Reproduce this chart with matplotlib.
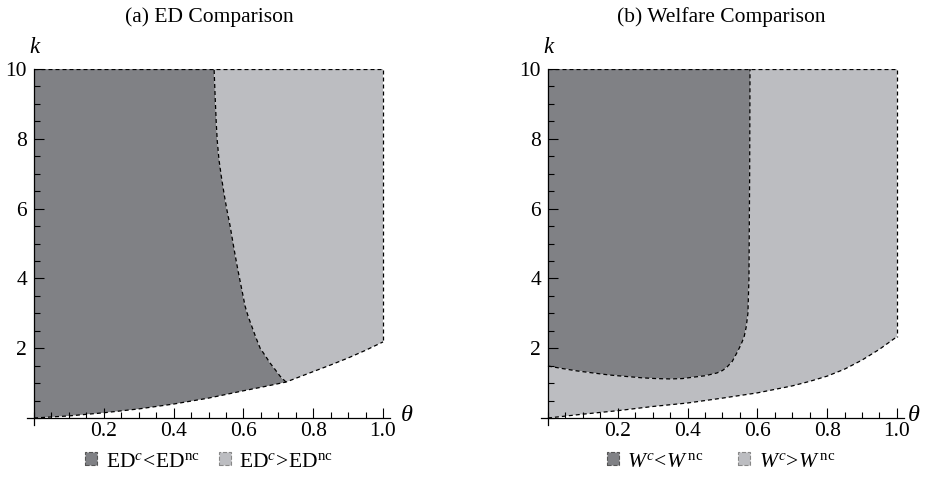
"""Region plots: ED and welfare comparison over (theta, k)."""

import matplotlib
matplotlib.use("Agg")
import matplotlib.pyplot as plt
from matplotlib.patches import Patch
from matplotlib.ticker import MultipleLocator

plt.rcParams["font.family"] = ["Liberation Serif", "DejaVu Serif"]
plt.rcParams["mathtext.fontset"] = "custom"
plt.rcParams["mathtext.rm"] = "Liberation Serif"
plt.rcParams["mathtext.it"] = "Liberation Serif:italic"

DARK = "#808185"
LIGHT = "#bcbdc1"
K_MAX = 10
FS = 15.5

# (a) lower feasibility boundary
theta_low_a = [0, 0.1, 0.2, 0.3, 0.4, 0.5, 0.6, 0.66, 0.722, 0.8, 0.85, 0.9, 0.95, 1.0]
k_low_a = [0, 0.06, 0.15, 0.26, 0.4, 0.57, 0.78, 0.9, 1.03, 1.33, 1.52, 1.72, 1.94, 2.18]
# (a) boundary ED^c = ED^nc
theta_div_a = [0.722, 0.705, 0.69, 0.676, 0.665, 0.648, 0.636, 0.625, 0.614, 0.605, 0.595,
               0.585, 0.573, 0.562, 0.553, 0.545, 0.537, 0.530, 0.525, 0.522, 0.519, 0.516]
k_div_a = [1.03, 1.2, 1.4, 1.58, 1.75, 2.0, 2.3, 2.6, 2.9, 3.2, 3.7,
           4.2, 4.85, 5.5, 5.95, 6.4, 6.9, 7.4, 7.95, 8.5, 9.2, 10]

# (b) lower feasibility boundary
theta_low_b = [0, 0.1, 0.2, 0.3, 0.4, 0.5, 0.6, 0.7, 0.75, 0.8, 0.85, 0.9, 0.95, 1.0]
k_low_b = [0, 0.11, 0.21, 0.33, 0.43, 0.57, 0.72, 0.92, 1.05, 1.2, 1.4, 1.66, 1.97, 2.33]
# (b) boundary W^c = W^nc
theta_div_b = [0, 0.04, 0.083, 0.13, 0.178, 0.225, 0.272, 0.31, 0.35, 0.385, 0.416, 0.45,
               0.484, 0.5, 0.513, 0.528, 0.541, 0.553, 0.562, 0.568, 0.573, 0.576, 0.578, 0.579]
k_div_b = [1.49, 1.42, 1.35, 1.29, 1.23, 1.19, 1.15, 1.13, 1.12, 1.13, 1.17, 1.21,
           1.29, 1.36, 1.46, 1.62, 1.86, 2.1, 2.32, 2.6, 3.0, 4.0, 7.0, 10]

titles = ["(a) ED Comparison", "(b) Welfare Comparison"]
legend_labels = [
    [r"$\mathrm{ED}^{c}\!<\!\mathrm{ED}^{\mathrm{nc}}$", r"$\mathrm{ED}^{c}\!>\!\mathrm{ED}^{\mathrm{nc}}$"],
    [r"$W^{c}\!<\!W^{\,\mathrm{nc}}$", r"$W^{c}\!>\!W^{\,\mathrm{nc}}$"],
]

DASH = (0, (3.2, 2.4))


def style_axes(ax, theta_off):
    ax.set_xlim(-0.02, 1.02)
    ax.set_ylim(-0.2, K_MAX)
    for side in ["top", "right"]:
        ax.spines[side].set_visible(False)
    ax.spines["left"].set_position(("data", 0))
    ax.spines["bottom"].set_position(("data", 0))
    for side in ["left", "bottom"]:
        ax.spines[side].set_linewidth(0.9)
    ax.set_xticks([0.2, 0.4, 0.6, 0.8, 1.0])
    ax.set_xticklabels(["0.2", "0.4", "0.6", "0.8", "1.0"])
    ax.set_yticks([2, 4, 6, 8, 10])
    ax.xaxis.set_minor_locator(MultipleLocator(0.05))
    ax.yaxis.set_minor_locator(MultipleLocator(0.5))
    ax.tick_params(which="both", direction="in", labelsize=FS, width=0.8)
    ax.tick_params(which="major", length=7)
    ax.tick_params(which="minor", length=4.5)
    ax.tick_params(axis="x", pad=3)
    ax.tick_params(axis="y", pad=5)
    ax.patch.set_visible(False)
    ax.annotate("k", xy=(0, K_MAX), xytext=(0, 8), textcoords="offset points",
                ha="center", va="bottom", fontsize=FS + 1, style="italic")
    ax.annotate(r"$\theta$", xy=(1.0, 0), xytext=(theta_off, 2), textcoords="offset points",
                ha="center", va="center", fontsize=FS + 2)


def outline(ax, xs, ys):
    ax.plot(xs, ys, color="black", lw=0.9, linestyle=DASH)


fig = plt.figure(figsize=(9.29, 4.83), dpi=100)
ax_a = fig.add_axes([0.0291, 0.1201, 0.3907, 0.737])
ax_b = fig.add_axes([0.5823, 0.1201, 0.3907, 0.737])

# ---- panel (a)
i0 = theta_low_a.index(0.722)
dark_x = theta_low_a[:i0 + 1] + theta_div_a[1:] + [0]
dark_y = k_low_a[:i0 + 1] + k_div_a[1:] + [K_MAX]
ax_a.fill(dark_x, dark_y, color=DARK, lw=0)
light_x = theta_low_a[i0:] + [1.0] + theta_div_a[::-1]
light_y = k_low_a[i0:] + [K_MAX] + k_div_a[::-1]
ax_a.fill(light_x, light_y, color=LIGHT, lw=0)
outline(ax_a, theta_low_a, k_low_a)
outline(ax_a, theta_div_a, k_div_a)
outline(ax_a, [0, 1.0, 1.0], [K_MAX, K_MAX, k_low_a[-1]])
style_axes(ax_a, 17)

# ---- panel (b)
ax_b.fill(theta_div_b + [0], k_div_b + [K_MAX], color=DARK, lw=0)
light_x = theta_low_b + [1.0] + theta_div_b[::-1]
light_y = k_low_b + [K_MAX] + k_div_b[::-1]
ax_b.fill(light_x, light_y, color=LIGHT, lw=0)
outline(ax_b, theta_low_b, k_low_b)
outline(ax_b, theta_div_b, k_div_b)
outline(ax_b, [0, 1.0, 1.0], [K_MAX, K_MAX, k_low_b[-1]])
style_axes(ax_b, 12)

for title, labels, cx, colsp in zip(titles, legend_labels, [0.225, 0.776], [0.9, 1.6]):
    fig.text(cx, 1 - 17 / 483, title, ha="center", va="center", fontsize=FS)
    handles = [
        Patch(facecolor=DARK, edgecolor="#555555", linestyle="--", lw=0.8),
        Patch(facecolor=LIGHT, edgecolor="#888888", linestyle="--", lw=0.8),
    ]
    fig.legend(handles, labels, loc="center", bbox_to_anchor=(cx, 1 - 462 / 483),
               ncol=2, frameon=False, fontsize=FS, handlelength=0.55, handleheight=0.55,
               handletextpad=0.4, columnspacing=colsp)

fig.savefig("out.png", dpi=100)
